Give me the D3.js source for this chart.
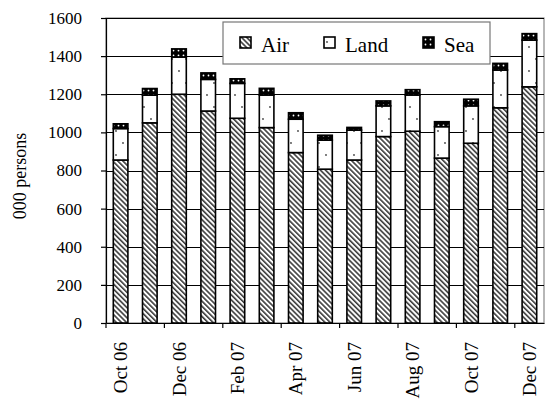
<!DOCTYPE html>
<html><head><meta charset="utf-8">
<script src="https://cdn.jsdelivr.net/npm/d3@7/dist/d3.min.js"></script>
</head><body style="margin:0">
<script>
const months = ["Oct 06","Nov 06","Dec 06","Jan 07","Feb 07","Mar 07","Apr 07","May 07","Jun 07","Jul 07","Aug 07","Sep 07","Oct 07","Nov 07","Dec 07"];
const air  = [855,1050,1200,1112,1074,1025,894,807,855,978,1006,865,943,1129,1239];
const land = [165,145,195,166,183,171,175,152,157,161,190,165,196,198,245];
const sea  = [25,35,43,34,24,35,34,26,14,26,28,26,35,35,34];
const seriesNames = ["Air","Land","Sea"];
const yTicks = [0,200,400,600,800,1000,1200,1400,1600];
const xTickLabels = months.filter((d,i)=>i%2===0);

const FONT = "Times New Roman";
const W=555,H=413, m={l:106,r:11,t:18,b:90};
const w=W-m.l-m.r, h=H-m.t-m.b;
const svg=d3.select("body").append("svg").attr("width",W).attr("height",H)
  .attr("font-family",FONT).style("font-family",FONT);
const defs=svg.append("defs");
const pa=defs.append("pattern").attr("id","pAir").attr("patternUnits","userSpaceOnUse")
  .attr("width",3.6).attr("height",3.6).attr("patternTransform","rotate(-45)");
pa.append("rect").attr("width",3.6).attr("height",3.6).attr("fill","#fff");
pa.append("line").attr("x1",0.8).attr("y1",0).attr("x2",0.8).attr("y2",3.6).attr("stroke","#3a3a3a").attr("stroke-width",1.6);
const pl=defs.append("pattern").attr("id","pLand").attr("patternUnits","userSpaceOnUse").attr("width",14).attr("height",24);
pl.append("rect").attr("width",14).attr("height",24).attr("fill","#fff");
pl.append("circle").attr("cx",3).attr("cy",5).attr("r",0.9).attr("fill","#444");
pl.append("circle").attr("cx",10).attr("cy",17).attr("r",0.9).attr("fill","#444");
const ps=defs.append("pattern").attr("id","pSea").attr("patternUnits","userSpaceOnUse").attr("width",5).attr("height",5);
ps.append("rect").attr("width",5).attr("height",5).attr("fill","#000");
ps.append("circle").attr("cx",2.5).attr("cy",2.5).attr("r",0.9).attr("fill","#fff");
const fills={"Air":"url(#pAir)","Land":"url(#pLand)","Sea":"url(#pSea)"};

const g=svg.append("g").attr("transform",`translate(${m.l},${m.t})`);
const x=d3.scaleBand().domain(months).range([0,w]).padding(0);
const y=d3.scaleLinear().domain([0,1600]).range([h,0]);

g.append("rect").attr("x",0).attr("y",0).attr("width",w).attr("height",h).attr("fill","none").attr("stroke","#888").attr("stroke-width",1.2);
g.selectAll(".grid").data(yTicks.filter(d=>d>0)).enter().append("line")
  .attr("x1",0).attr("x2",w).attr("y1",d=>Math.round(y(d))+0.5).attr("y2",d=>Math.round(y(d))+0.5)
  .attr("stroke","#000").attr("stroke-width",1);

const rows=months.map((mo,i)=>({month:mo,Air:air[i],Land:land[i],Sea:sea[i]}));
const stack=d3.stack().keys(seriesNames)(rows);
const bw=x.bandwidth()*0.5;
g.selectAll(".layer").data(stack).enter().append("g")
  .attr("fill",d=>fills[d.key])
  .selectAll("rect").data(d=>d).enter().append("rect")
  .attr("x",d=>x(d.data.month)+x.bandwidth()*0.25)
  .attr("width",bw)
  .attr("y",d=>y(d[1])).attr("height",d=>y(d[0])-y(d[1]))
  .attr("stroke","#000").attr("stroke-width",1.6);

const ya=g.append("g").call(d3.axisLeft(y).tickValues(yTicks).tickFormat(d3.format("d")).tickSize(5).tickPadding(19).tickSizeOuter(0));
ya.attr("font-family",FONT).attr("font-size",17);
ya.selectAll("text").attr("font-family",FONT).style("font-family",FONT).style("font-size","17px");
ya.select(".domain").attr("stroke","#000").attr("stroke-width",1.2);
ya.selectAll("line").attr("stroke","#000").attr("stroke-width",1.2);

const xa=g.append("g").attr("transform",`translate(0,${h})`).call(d3.axisBottom(x).tickValues(xTickLabels).tickSize(0).tickSizeOuter(0));
xa.attr("font-family",FONT).attr("font-size",19);
xa.select(".domain").attr("stroke","#000").attr("stroke-width",1.2);
xa.selectAll("text").attr("font-family",FONT).style("font-family",FONT).style("font-size","19px")
  .attr("transform","rotate(-90)").attr("text-anchor","end").attr("x",-19).attr("y",0).attr("dy","0.35em");
g.selectAll(".xt").data(xTickLabels).enter().append("line")
  .attr("x1",d=>x(d)).attr("x2",d=>x(d)).attr("y1",h).attr("y2",h+5)
  .attr("stroke","#000").attr("stroke-width",1.2);

svg.append("text").attr("transform","translate(26,176) rotate(-90)").attr("text-anchor","middle")
  .attr("font-family",FONT).style("font-family",FONT).style("font-size","18px").text("000 persons");

const lg=svg.append("g").attr("transform","translate(223,22)");
lg.append("rect").attr("width",267).attr("height",42).attr("fill","#fff").attr("stroke","#777").attr("stroke-width",1.2);
const lx=[17,101,200];
const items=lg.selectAll(".li").data(seriesNames).enter().append("g").attr("transform",(d,i)=>`translate(${lx[i]},15)`);
items.append("rect").attr("width",11).attr("height",11).attr("fill",d=>fills[d]).attr("stroke","#000").attr("stroke-width",1.6);
items.append("text").attr("x",21).attr("y",14.5).attr("font-family",FONT).style("font-family",FONT).style("font-size","21px").text(d=>d);
</script>
</body></html>
